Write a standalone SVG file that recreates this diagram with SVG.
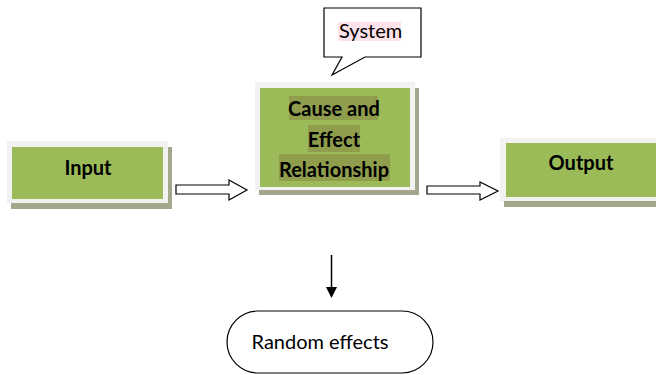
<svg xmlns="http://www.w3.org/2000/svg" width="656" height="375" viewBox="0 0 656 375">
<style>
.frame{fill:#f2f2f2;}
.shadow{fill:#a4a78b;}
.green{fill:#9bbb59;}
.hl{fill:#8f9d4d;}
.lbl{font-family:Lato,"Liberation Sans",sans-serif;font-weight:bold;font-size:20px;fill:#000;text-anchor:middle;}
.txt{font-family:Lato,"Liberation Sans",sans-serif;font-size:20px;fill:#000;}
.blk{fill:#fff;stroke:#000;stroke-width:1.2;}
</style>
<rect width="656" height="375" fill="#fff"/>
<g id="input">
<rect class="shadow" x="11" y="147" width="161" height="62"/>
<rect class="frame" x="7" y="141" width="161" height="62"/>
<rect class="green" x="12" y="147" width="151" height="52"/>
<text class="lbl" x="88" y="175">Input</text>
</g>
<g id="cause">
<rect class="shadow" x="259" y="88" width="160" height="107"/>
<rect class="frame" x="255" y="82" width="160" height="108"/>
<rect class="green" x="260" y="88" width="150" height="99"/>
<rect class="hl" x="289" y="96" width="89" height="24"/>
<rect class="hl" x="308" y="125" width="52" height="27"/>
<rect class="hl" x="279" y="154" width="111" height="27"/>
<text class="lbl" x="334" y="116">Cause and</text>
<text class="lbl" x="334" y="147">Effect</text>
<text class="lbl" x="334" y="177">Relationship</text>
</g>
<g id="output">
<rect class="shadow" x="504" y="144" width="160" height="63"/>
<rect class="frame" x="500" y="138" width="160" height="63"/>
<rect class="green" x="506" y="143" width="154" height="54"/>
<text class="lbl" x="581" y="170">Output</text>
</g>
<g id="system">
<path class="blk" d="M324,8 H421 V57 H365 L332,75 L342,57 H324 Z"/>
<rect x="338" y="22" width="63" height="19" fill="#fde2ea"/>
<text class="txt" x="339" y="38">System</text>
</g>
<g id="random">
<rect x="227" y="311" width="206" height="62" rx="31" ry="31" fill="#fff" stroke="#000" stroke-width="1.2"/>
<text class="txt" x="320" y="349" text-anchor="middle">Random effects</text>
</g>
<g id="connectors">
<polygon class="blk" points="176,185 229,185 229,180 247,190 229,200 229,194 176,194"/>
<polygon class="blk" points="427,186 480,186 480,182 498,191 480,200 480,194 427,194"/>
<line x1="331.5" y1="255" x2="331.5" y2="288" stroke="#000" stroke-width="1.5"/>
<polygon points="326,287 337,287 331.5,298" fill="#000"/>
</g>
</svg>
